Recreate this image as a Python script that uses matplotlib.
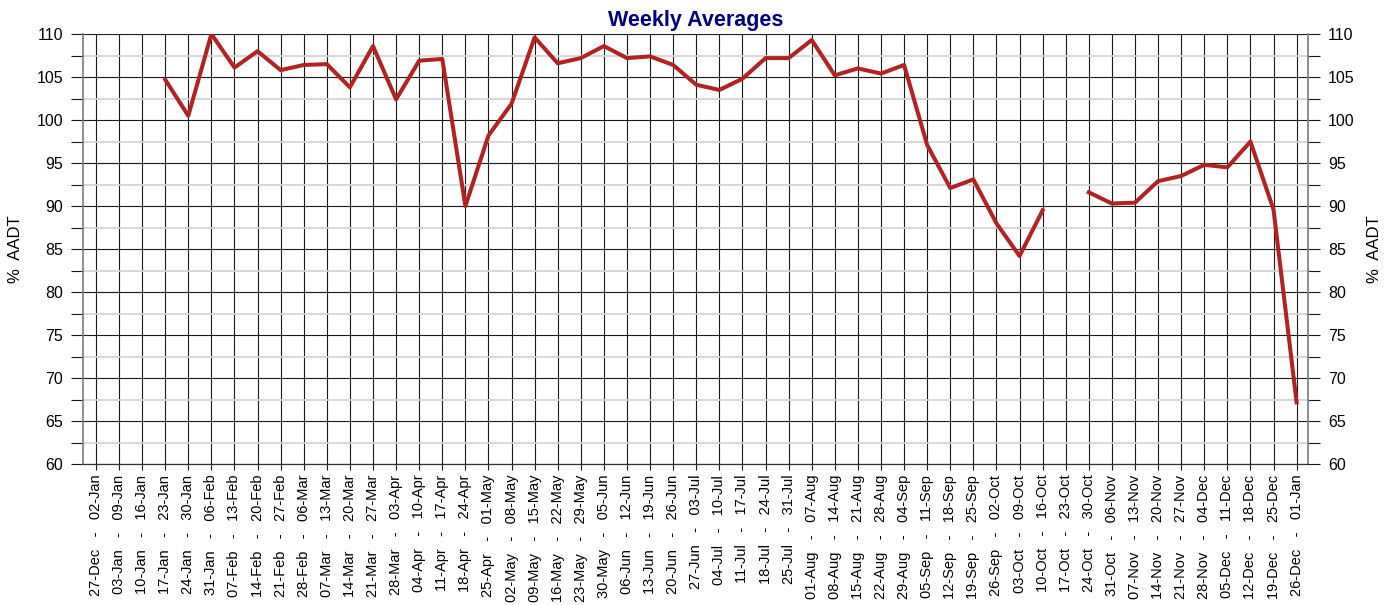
import numpy as np
import matplotlib.pyplot as plt
from matplotlib.ticker import MultipleLocator

plt.rcParams['font.family'] = ['Liberation Sans', 'DejaVu Sans']

# week start / end dates (one point per week)
week_starts = ["27-Dec", "03-Jan", "10-Jan", "17-Jan", "24-Jan", "31-Jan", "07-Feb", "14-Feb",
               "21-Feb", "28-Feb", "07-Mar", "14-Mar", "21-Mar", "28-Mar", "04-Apr", "11-Apr",
               "18-Apr", "25-Apr", "02-May", "09-May", "16-May", "23-May", "30-May", "06-Jun",
               "13-Jun", "20-Jun", "27-Jun", "04-Jul", "11-Jul", "18-Jul", "25-Jul", "01-Aug",
               "08-Aug", "15-Aug", "22-Aug", "29-Aug", "05-Sep", "12-Sep", "19-Sep", "26-Sep",
               "03-Oct", "10-Oct", "17-Oct", "24-Oct", "31-Oct", "07-Nov", "14-Nov", "21-Nov",
               "28-Nov", "05-Dec", "12-Dec", "19-Dec", "26-Dec"]
week_ends = ["02-Jan", "09-Jan", "16-Jan", "23-Jan", "30-Jan", "06-Feb", "13-Feb", "20-Feb",
             "27-Feb", "06-Mar", "13-Mar", "20-Mar", "27-Mar", "03-Apr", "10-Apr", "17-Apr",
             "24-Apr", "01-May", "08-May", "15-May", "22-May", "29-May", "05-Jun", "12-Jun",
             "19-Jun", "26-Jun", "03-Jul", "10-Jul", "17-Jul", "24-Jul", "31-Jul", "07-Aug",
             "14-Aug", "21-Aug", "28-Aug", "04-Sep", "11-Sep", "18-Sep", "25-Sep", "02-Oct",
             "09-Oct", "16-Oct", "23-Oct", "30-Oct", "06-Nov", "13-Nov", "20-Nov", "27-Nov",
             "04-Dec", "11-Dec", "18-Dec", "25-Dec", "01-Jan"]

# % of AADT, None = no data
pct_aadt = [None, None, None, 104.7, 100.5, 110.0, 106.1, 108.0,
            105.8, 106.4, 106.5, 103.8, 108.6, 102.4, 106.9, 107.1,
            90.0, 98.2, 101.9, 109.6, 106.6, 107.2, 108.6, 107.2,
            107.4, 106.4, 104.1, 103.5, 104.8, 107.2, 107.2, 109.3,
            105.2, 106.0, 105.4, 106.4, 97.1, 92.1, 93.1, 88.0,
            84.2, 89.5, None, 91.6, 90.3, 90.4, 92.9, 93.5,
            94.8, 94.5, 97.5, 89.6, 67.2]

labels = [f"{s}   -   {e}" for s, e in zip(week_starts, week_ends)]
x = np.arange(len(labels))
y = np.array([np.nan if v is None else v for v in pct_aadt], dtype=float)

fig = plt.figure(figsize=(13.98, 6.05), dpi=100)
ax = fig.add_axes([0.0597, 0.2326, 0.8757, 0.7112])

ax.plot(x, y, color='#B22222', linewidth=2.9, zorder=5)

ax.set_xlim(-0.54, len(labels) - 0.52)
ax.set_ylim(60, 110)
ax.set_xticks(x)
ax.set_xticklabels(labels, rotation=90, fontsize=10.5)
ax.yaxis.set_major_locator(MultipleLocator(5))
ax.yaxis.set_minor_locator(MultipleLocator(2.5))

ax.grid(axis='x', which='major', color='#1a1a1a', linewidth=0.8)
ax.grid(axis='y', which='major', color='#1a1a1a', linewidth=0.8)
ax.grid(axis='y', which='minor', color='#d4d4d4', linewidth=1.3)
ax.set_axisbelow(True)

for side in ['left', 'right']:
    ax.spines[side].set_color('#7a7a7a')
    ax.spines[side].set_linewidth(1.2)
ax.spines['bottom'].set_color('#333333')
ax.spines['bottom'].set_linewidth(0.9)
ax.spines['top'].set_visible(False)

ax.set_ylabel("%  AADT", fontsize=12, labelpad=10)

# second axis only carries the right-hand label
ax2 = ax.twinx()
ax2.set_ylim(ax.get_ylim())
ax2.set_yticks([])
for s in ax2.spines.values():
    s.set_visible(False)
ax2.set_ylabel("%  AADT", fontsize=12, labelpad=43)

ax.tick_params(axis='y', which='both', length=8.5, width=0.8, color='#1a1a1a',
               labelsize=11.5, pad=6, left=True, right=True, labelleft=True, labelright=True)
ax.tick_params(axis='x', length=4.5, width=0.8, color='#1a1a1a', pad=3)

ax.set_title("Weekly Averages", fontsize=15.5, fontweight='bold', color='#000080', pad=6)

fig.savefig("out.png", dpi=100)
